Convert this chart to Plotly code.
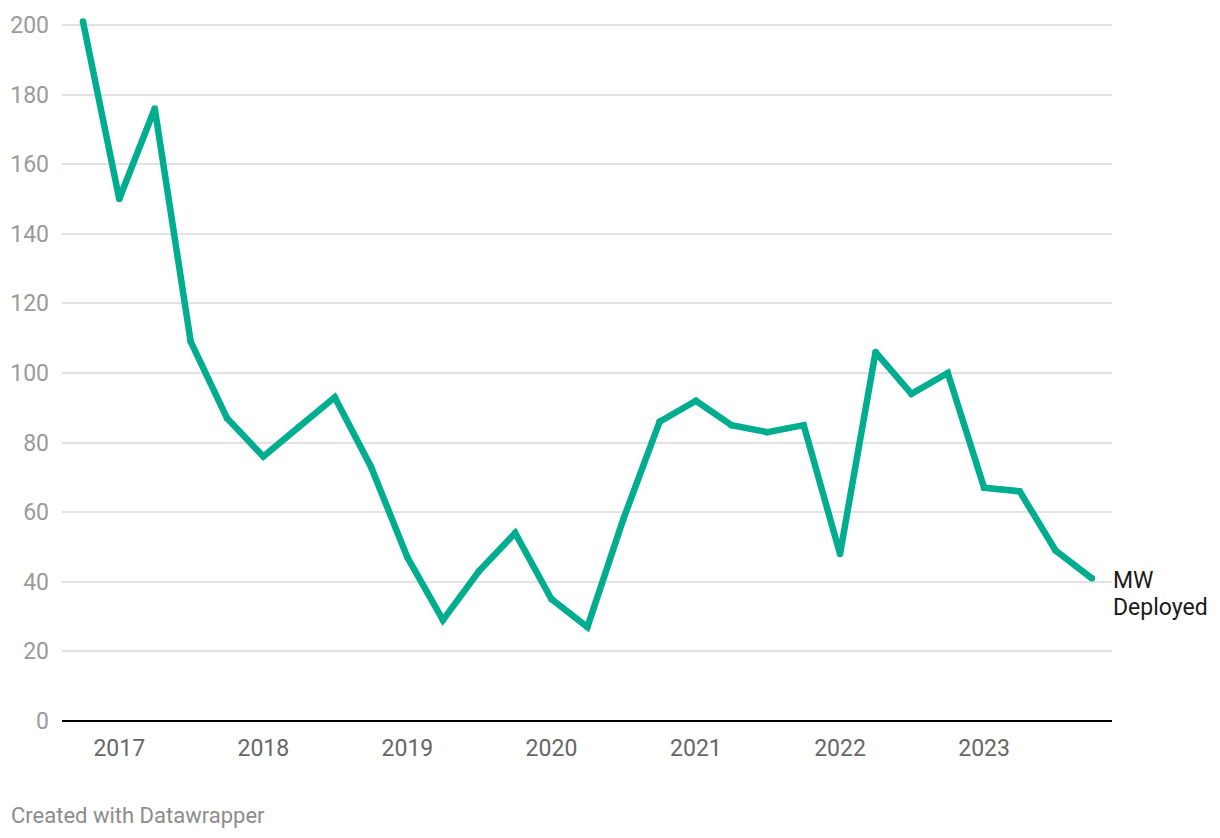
import plotly.graph_objects as go
import pandas as pd

# Quarterly data, 2016 Q4 – 2023 Q4
quarters = pd.date_range("2016-10-01", "2023-10-01", freq="QS").strftime("%Y-%m-%d").tolist()
mw_deployed = [201, 150, 176, 109, 87, 76, 84.5, 93, 73, 47, 29, 43, 54, 35, 27, 58,
               86, 92, 85, 83, 85, 48, 106, 94, 100, 67, 66, 49, 41]
series_label_lines = ["MW", "Deployed"]
year_ticks = ["2017-01-01", "2018-01-01", "2019-01-01", "2020-01-01",
              "2021-01-01", "2022-01-01", "2023-01-01"]
year_labels = ["2017", "2018", "2019", "2020", "2021", "2022", "2023"]
y_ticks = [0, 20, 40, 60, 80, 100, 120, 140, 160, 180, 200]

LINE_COLOR = "#00ad8e"

fig = go.Figure()
fig.add_trace(go.Scatter(
    x=quarters, y=mw_deployed, mode="lines+markers",
    line=dict(color=LINE_COLOR, width=6.5, shape="linear"),
    marker=dict(color=LINE_COLOR, size=6.5, line=dict(width=0)),
    cliponaxis=False, hoverinfo="x+y", showlegend=False,
))

for i, txt in enumerate(series_label_lines):
    fig.add_annotation(
        x=1, xref="paper", y=mw_deployed[-1], yref="y",
        text=txt, showarrow=False, xanchor="left", yanchor="middle",
        align="left", yshift=-2 - 27 * i, xshift=-1,
        font=dict(family="Roboto", size=23, color="#1a1a1a"),
    )
fig.add_annotation(
    x=0, xref="paper", xanchor="left", y=-0.1324, yref="paper", yanchor="middle",
    text="Created with Datawrapper", showarrow=False, xshift=-53,
    font=dict(family="Roboto", size=22, color="#8c8c8c"),
)

fig.update_layout(
    width=1204, height=822,
    margin=dict(l=54, r=100, t=3, b=109, autoexpand=False),
    plot_bgcolor="white", paper_bgcolor="white",
    font=dict(family="Roboto"),
    xaxis=dict(
        range=["2016-08-09", "2023-11-21"],
        tickvals=year_ticks, ticktext=year_labels,
        showgrid=False, zeroline=False, showline=False, ticks="",
        tickfont=dict(family="Roboto", size=23, color="#666666"),
        ticklabelstandoff=11, automargin=False,
    ),
    yaxis=dict(
        range=[0, 204], tickvals=y_ticks,
        showgrid=True, gridcolor="#e2e2e2", gridwidth=1.5,
        zeroline=True, zerolinecolor="#000000", zerolinewidth=2,
        showline=False, ticks="",
        tickfont=dict(family="Roboto", size=23, color="#9a9a9a"),
        ticklabelstandoff=12, automargin=False,
    ),
)

fig.write_html("out.html")
